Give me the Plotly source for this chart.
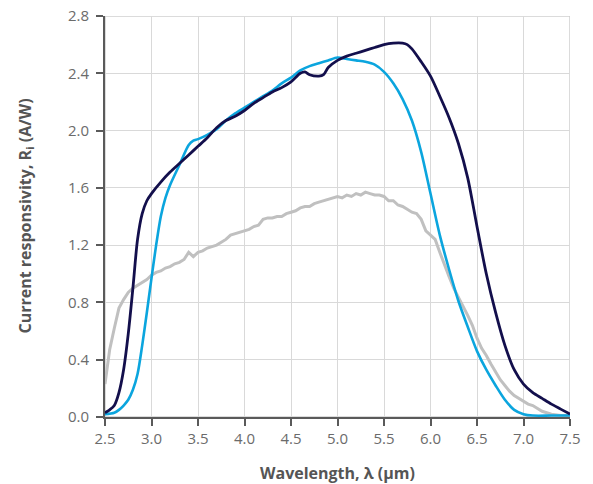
import plotly.graph_objects as go

# Wavelength (um) and responsivity (A/W)
navy_x = [2.5, 2.55, 2.6, 2.65, 2.7, 2.75, 2.8, 2.85, 2.9, 2.95, 3.0, 3.1, 3.2, 3.3, 3.4, 3.5, 3.6, 3.7, 3.8, 3.9,
          4.0, 4.1, 4.2, 4.3, 4.4, 4.5, 4.6, 4.65, 4.7, 4.8, 4.85, 4.9, 5.0, 5.1, 5.2, 5.3, 5.4, 5.5, 5.6, 5.7,
          5.75, 5.8, 5.9, 6.0, 6.1, 6.2, 6.3, 6.4, 6.5, 6.6, 6.7, 6.8, 6.9, 7.0, 7.1, 7.2, 7.3, 7.4, 7.5]
navy_y = [0.03, 0.05, 0.08, 0.17, 0.33, 0.58, 0.90, 1.24, 1.42, 1.51, 1.56, 1.64, 1.71, 1.77, 1.83, 1.89, 1.95, 2.02, 2.07, 2.10,
          2.14, 2.19, 2.23, 2.27, 2.30, 2.34, 2.40, 2.41, 2.39, 2.38, 2.39, 2.44, 2.49, 2.52, 2.54, 2.56, 2.58, 2.60, 2.61, 2.61,
          2.60, 2.57, 2.48, 2.38, 2.24, 2.09, 1.91, 1.67, 1.33, 1.00, 0.73, 0.50, 0.33, 0.23, 0.17, 0.13, 0.09, 0.055, 0.02]

cyan_x = [2.5, 2.6, 2.65, 2.7, 2.75, 2.8, 2.85, 2.9, 2.95, 3.0, 3.05, 3.1, 3.15, 3.2, 3.3, 3.4, 3.45, 3.5, 3.6, 3.7,
          3.8, 3.9, 4.0, 4.1, 4.2, 4.3, 4.4, 4.5, 4.6, 4.7, 4.8, 4.9, 5.0, 5.1, 5.2, 5.3, 5.4, 5.5, 5.6, 5.7,
          5.8, 5.9, 6.0, 6.1, 6.2, 6.3, 6.4, 6.5, 6.6, 6.7, 6.8, 6.9, 7.0, 7.1, 7.3, 7.5]
cyan_y = [0.02, 0.03, 0.05, 0.08, 0.12, 0.19, 0.30, 0.50, 0.73, 0.97, 1.20, 1.40, 1.53, 1.62, 1.76, 1.90, 1.93, 1.94, 1.97, 2.01,
          2.07, 2.12, 2.16, 2.20, 2.24, 2.28, 2.33, 2.37, 2.42, 2.45, 2.47, 2.49, 2.51, 2.50, 2.49, 2.48, 2.46, 2.41, 2.33, 2.22,
          2.07, 1.85, 1.56, 1.27, 1.03, 0.81, 0.63, 0.46, 0.33, 0.22, 0.12, 0.05, 0.02, 0.01, 0.01, 0.01]

gray_x = [2.5, 2.55, 2.6, 2.65, 2.7, 2.75, 2.8, 2.85, 2.9, 2.95, 3.0, 3.05, 3.1, 3.15, 3.2, 3.25, 3.3, 3.35, 3.4, 3.45,
          3.5, 3.55, 3.6, 3.65, 3.7, 3.75, 3.8, 3.85, 3.9, 3.95, 4.0, 4.05, 4.1, 4.15, 4.2, 4.25, 4.3, 4.35, 4.4, 4.45,
          4.5, 4.55, 4.6, 4.65, 4.7, 4.75, 4.8, 4.85, 4.9, 4.95, 5.0, 5.05, 5.1, 5.15, 5.2, 5.25, 5.3, 5.35, 5.4, 5.45,
          5.5, 5.55, 5.6, 5.65, 5.7, 5.75, 5.8, 5.85, 5.9, 5.95, 6.0, 6.05, 6.1, 6.15, 6.2, 6.25, 6.3, 6.35, 6.4, 6.45,
          6.5, 6.55, 6.6, 6.65, 6.7, 6.75, 6.8, 6.85, 6.9, 6.95, 7.0, 7.05, 7.1, 7.15, 7.2, 7.25, 7.3, 7.4, 7.5]
gray_y = [0.23, 0.47, 0.62, 0.76, 0.82, 0.87, 0.90, 0.92, 0.94, 0.96, 0.99, 1.01, 1.02, 1.04, 1.05, 1.07, 1.08, 1.10, 1.15, 1.12,
          1.15, 1.16, 1.18, 1.19, 1.20, 1.22, 1.24, 1.27, 1.28, 1.29, 1.30, 1.31, 1.33, 1.34, 1.38, 1.39, 1.39, 1.40, 1.40, 1.42,
          1.43, 1.44, 1.46, 1.47, 1.47, 1.49, 1.50, 1.51, 1.52, 1.53, 1.54, 1.53, 1.55, 1.54, 1.56, 1.55, 1.57, 1.56, 1.55, 1.55,
          1.54, 1.51, 1.51, 1.48, 1.47, 1.45, 1.43, 1.42, 1.38, 1.30, 1.27, 1.24, 1.15, 1.06, 0.98, 0.90, 0.84, 0.77, 0.71, 0.64,
          0.55, 0.48, 0.43, 0.37, 0.31, 0.26, 0.22, 0.18, 0.15, 0.13, 0.11, 0.09, 0.08, 0.06, 0.04, 0.03, 0.02, 0.01, 0.01]

x_ticks = [2.5, 3.0, 3.5, 4.0, 4.5, 5.0, 5.5, 6.0, 6.5, 7.0, 7.5]
y_ticks = [0.0, 0.4, 0.8, 1.2, 1.6, 2.0, 2.4, 2.8]
x_title = "<b>Wavelength, λ (μm)</b>"
y_title = "<b>Current responsivity, R<sub>i</sub> (A/W)</b>"

fig = go.Figure()
fig.add_trace(go.Scatter(x=gray_x, y=gray_y, mode="lines",
                         line=dict(color="#c0c0c0", width=3), showlegend=False))
fig.add_trace(go.Scatter(x=cyan_x, y=cyan_y, mode="lines",
                         line=dict(color="#0ba5de", width=2.6, shape="spline", smoothing=0.8), showlegend=False))
fig.add_trace(go.Scatter(x=navy_x, y=navy_y, mode="lines",
                         line=dict(color="#130f4c", width=2.8, shape="spline", smoothing=0.8), showlegend=False))

fig.add_shape(type="rect", xref="x", yref="y", x0=2.5, x1=7.5, y0=0, y1=2.8,
              line=dict(color="#cfcfcf", width=1.5), layer="below")

fig.add_annotation(text=x_title, xref="paper", yref="paper", x=0.5, y=0, xanchor="center", yanchor="middle",
                   yshift=-56, showarrow=False, font=dict(size=16, color="#555555"))
fig.add_annotation(text=y_title, xref="paper", yref="paper", x=0, y=0.5, xanchor="center", yanchor="middle",
                   xshift=-80, textangle=-90, showarrow=False, font=dict(size=16, color="#555555"))

font_family = "Open Sans, sans-serif"
axis_common = dict(showgrid=True, gridcolor="#d9d9d9", gridwidth=1,
                   showline=True, linecolor="#5a5a5a", linewidth=2,
                   ticks="outside", ticklen=7, tickcolor="#5a5a5a", tickwidth=1.5,
                   tickfont=dict(size=15, color="#6b6b6b"), zeroline=False, automargin=False,
                   ticklabeloverflow="allow")
fig.update_layout(
    width=585, height=476,
    margin=dict(l=97, r=23, t=8, b=67),
    paper_bgcolor="white", plot_bgcolor="white",
    font=dict(family=font_family),
    xaxis=dict(range=[2.5, 7.5], tickvals=x_ticks, ticktext=[f"{v:.1f}" for v in x_ticks], **axis_common),
    yaxis=dict(range=[0, 2.8], tickvals=y_ticks, ticktext=[f"{v:.1f}" for v in y_ticks],
               ticklabelstandoff=4, **axis_common),
)

fig.write_html("out.html")
